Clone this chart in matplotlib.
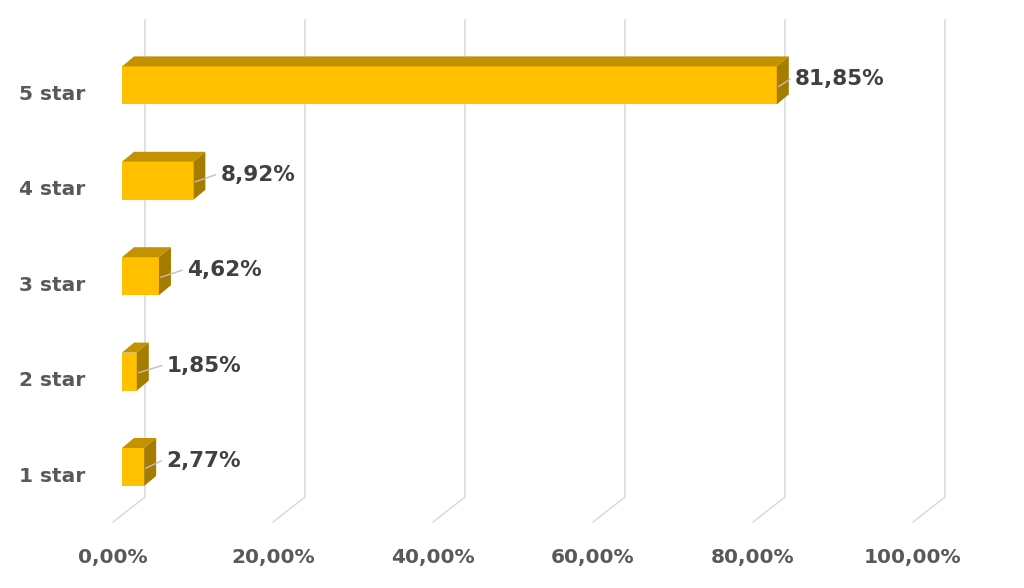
import matplotlib
matplotlib.use('Agg')
import matplotlib.pyplot as plt
from matplotlib.patches import Polygon

# data (bottom to top)
categories = ['1 star', '2 star', '3 star', '4 star', '5 star']
values = [2.77, 1.85, 4.62, 8.92, 81.85]
ticks = [0, 20, 40, 60, 80, 100]

# data units per pixel: 8 px per 1%, 95.4 px per category
PX_X = 1 / 8.0
PX_Y = 1 / 95.4

front = '#FFC000'
top_col = '#C29200'
side_col = '#A67C00'
grid_col = '#D9D9D9'
text_col = '#404040'
axis_col = '#595959'

fig = plt.figure(figsize=(10.24, 5.88), dpi=100)
ax = fig.add_axes([0, 0, 1, 1])
ax.set_xlim(-122 * PX_X, (1024 - 122) * PX_X)
ax.set_ylim((467 - 588) * PX_Y, 467 * PX_Y)
ax.axis('off')

# 3d-ish depth offsets
bar_dx, bar_dy = 12 * PX_X, 10 * PX_Y
wall_dx, floor_dx = 23 * PX_X, -9 * PX_X
wall_top, wall_bot, floor_front = 447 * PX_Y, -30 * PX_Y, -55 * PX_Y

# gridlines on back wall + floor
for t in ticks:
    ax.plot([t + wall_dx, t + wall_dx, t + floor_dx],
            [wall_top, wall_bot, floor_front],
            color=grid_col, lw=1.1, zorder=1, solid_joinstyle='miter')
    ax.text(t + floor_dx, -91 * PX_Y, f'{t:.2f}%'.replace('.', ','),
            ha='center', va='center', fontsize=14.5, fontweight='bold',
            color=axis_col)

h = 38 * PX_Y
ys = list(range(len(values)))
ax.barh(ys, values, height=h, color=front, zorder=3)

label_dx = [22, 30, 28, 27, 18]
for y, v, ldx in zip(ys, values, label_dx):
    y0, y1 = y - h / 2, y + h / 2
    ax.add_patch(Polygon([(0, y1), (v, y1), (v + bar_dx, y1 + bar_dy),
                          (bar_dx, y1 + bar_dy)], closed=True,
                         facecolor=top_col, edgecolor='none', zorder=3))
    ax.add_patch(Polygon([(v, y0), (v, y1), (v + bar_dx, y1 + bar_dy),
                          (v + bar_dx, y0 + bar_dy)], closed=True,
                         facecolor=side_col, edgecolor='none', zorder=3))
    lx = v + ldx * PX_X
    ly = y + 6 * PX_Y
    ax.plot([v + 2 * PX_X, lx - 5 * PX_X], [y - 1 * PX_Y, ly],
            color='#BFBFBF', lw=1, zorder=4)
    ax.text(lx, ly, f'{v:.2f}%'.replace('.', ','), ha='left', va='center',
            fontsize=15.5, fontweight='bold', color=text_col, zorder=5)
    ax.text(-37 * PX_X, y - 9 * PX_Y, categories[y], ha='right',
            va='center', fontsize=14.5, fontweight='bold', color=axis_col)

fig.savefig('out.png', dpi=100, facecolor='white')
